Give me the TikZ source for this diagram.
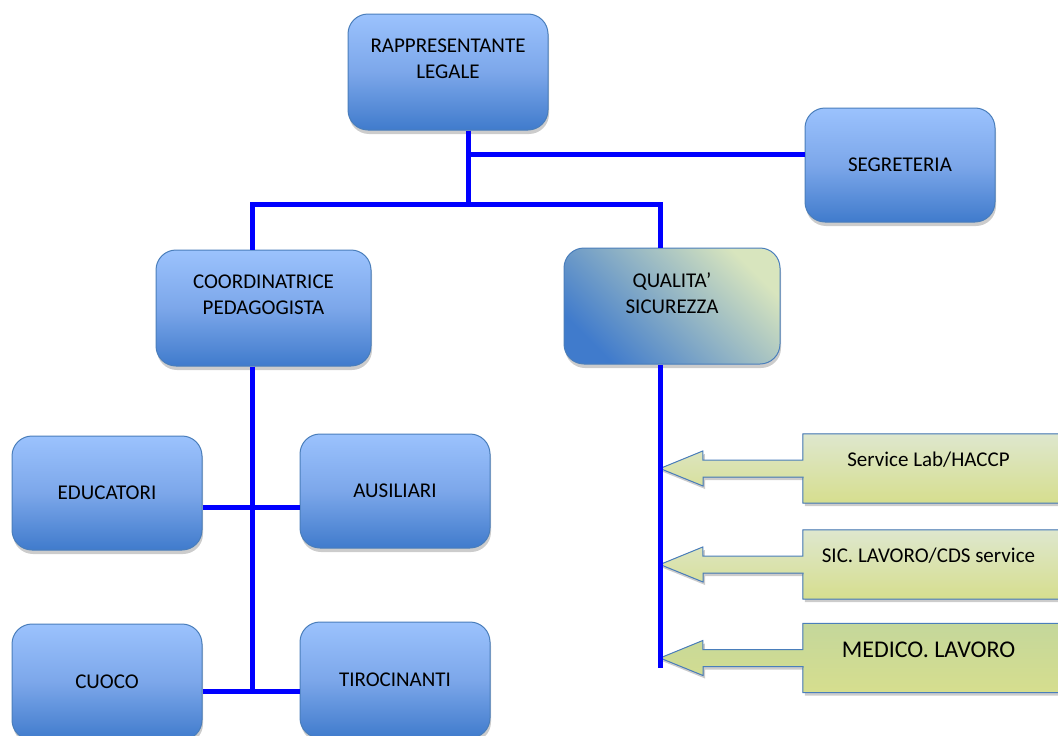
\documentclass[tikz,border=0pt]{standalone}
\usepackage{fontspec}
\setmainfont{Carlito}
\usetikzlibrary{calc,shadows,backgrounds}

\definecolor{boxtop}{RGB}{155,194,253}
\definecolor{boxmid}{RGB}{124,167,234}
\definecolor{boxbot}{RGB}{64,123,204}
\definecolor{boxline}{RGB}{74,126,187}
\definecolor{qgreen}{RGB}{216,229,190}
\definecolor{caltop}{RGB}{222,231,206}
\definecolor{calbot}{RGB}{214,222,142}
\definecolor{medtop}{RGB}{196,215,155}
\definecolor{linkblue}{RGB}{0,0,255}

\tikzset{
	box/.style={rounded corners=20pt, draw=boxline, line width=1pt,
		top color=boxtop, bottom color=boxbot, middle color=boxmid,
		drop shadow={shadow xshift=1pt, shadow yshift=-4pt, fill=black!40, opacity=0.5},
		align=center, inner sep=0pt, font=\fontsize{21}{26}\selectfont},
	link/.style={draw=linkblue, line width=5pt},
	calbody/.style={minimum width=251pt, minimum height=69pt, inner sep=0pt,
		text height=14pt, text depth=18pt, font=\fontsize{21}{26}\selectfont},
	calfill/.style={draw=boxline, line width=1pt, top color=caltop, bottom color=calbot,
		drop shadow={shadow xshift=2pt, shadow yshift=-3pt, fill=black!40, opacity=0.5}},
	medfill/.style={calfill, top color=medtop, bottom color=calbot}
}

\begin{document}
\begin{tikzpicture}[x=1pt,y=1pt]
		%%%%% START %%%%%
		\useasboundingbox (0,0) rectangle (1058,-736);
		
		% boxes
		\node[box, minimum width=200pt, minimum height=116pt] (rap) at (448,-72) {RAPPRESENTANTE\\LEGALE\\~};
		\node[box, minimum width=190pt, minimum height=114pt] (seg) at (900,-165) {SEGRETERIA};
		\node[box, minimum width=215pt, minimum height=116pt] (coord) at (263.5,-308) {COORDINATRICE\\PEDAGOGISTA\\~};
		\node[box, minimum width=216pt, minimum height=116pt,
			top color=qgreen, bottom color=boxbot, shading angle=-45] (qual) at (672,-306) {QUALITA’\\SICUREZZA\\~};
		\node[box, minimum width=190pt, minimum height=114pt] (edu) at (107,-493) {EDUCATORI};
		\node[box, minimum width=190pt, minimum height=114pt] (aus) at (395,-491) {AUSILIARI};
		\node[box, minimum width=190pt, minimum height=116pt] (cuoco) at (107,-682) {CUOCO};
		\node[box, minimum width=190pt, minimum height=116pt] (tiro) at (395,-680) {TIROCINANTI};
		
		% links
		\draw[link] ([xshift=20pt]rap.south) -- ++(0,-74) coordinate (hub);
		\draw[link] ([yshift=11pt]seg.west) coordinate (s) -- (s -| hub);
		\draw[link] ([xshift=-11.5pt]coord.north) |- (hub) -| ([xshift=-12pt]qual.north);
		\draw[link] ([xshift=-11.5pt]coord.south) -- ++(0,-326) coordinate (cbot);
		\draw[link] ([yshift=-14pt]edu.east) coordinate (e) -- (e -| aus.west);
		\draw[link] ([yshift=-9pt]cuoco.east) coordinate (k) -- (k -| tiro.west);
		\draw[link] ([xshift=-12pt]qual.south) -- ++(0,-303) coordinate (qbot);
		
		% callouts
		\node[calbody] (lab) at (928.5,-468.5) {Service Lab/HACCP};
		\node[calbody] (sic) at (928.5,-564.5) {SIC. LAVORO/CDS service};
		\node[calbody, text height=16pt, text depth=17pt, font=\fontsize{24}{29}\selectfont] (med) at (928.5,-658) {MEDICO. LAVORO};
		
		\begin{scope}[on background layer]
			\foreach \c/\f in {lab/calfill, sic/calfill, med/medfill}
				\filldraw[\f] ([xshift=10pt]\c.north east) -- (\c.north west) -- ([yshift=8.5pt]\c.west)
					-- ++(-100,0) -- ++(0,9) -- (\c.west -| qbot) -- ++(43,-17.5) -- ++(0,9)
					-- ++(100,0) -- (\c.south west) -- ([xshift=10pt]\c.south east);
		\end{scope}
		
		%%%%% END %%%%%
\end{tikzpicture}
\end{document}
